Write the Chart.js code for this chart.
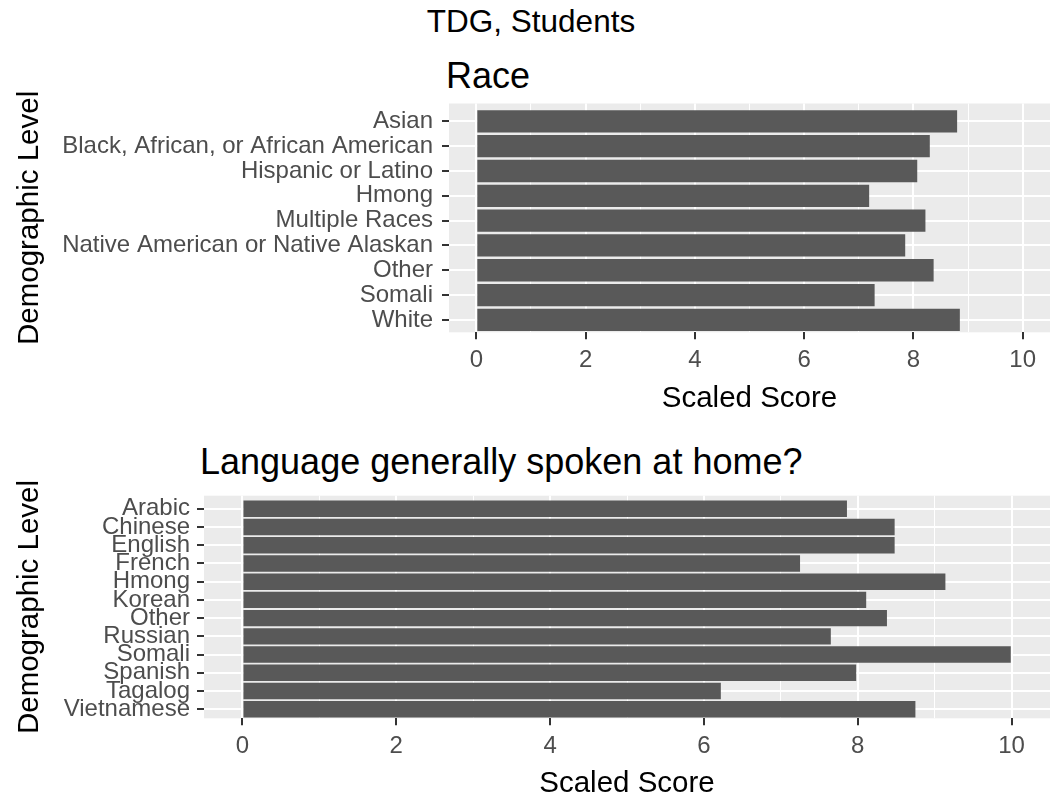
<!DOCTYPE html>
<html>
<head>
<meta charset="utf-8">
<script src="https://cdn.jsdelivr.net/npm/chart.js@4.4.1/dist/chart.umd.min.js"></script>
<style>
  html, body { margin: 0; padding: 0; background: #ffffff; }
  body { width: 1057px; height: 800px; position: relative; overflow: hidden;
         font-family: "Liberation Sans", Arial, sans-serif; }
  .txt { position: absolute; white-space: nowrap; color: #000000; }
  canvas { position: absolute; left: 0; }
</style>
</head>
<body>
<div class="txt" style="left:0;width:1062px;text-align:center;top:6px;font-size:31.5px;line-height:31.5px;">TDG, Students</div>
<div class="txt" style="left:446px;top:58px;font-size:36px;line-height:36px;">Race</div>
<div class="txt" style="left:200px;top:444px;font-size:36px;line-height:36px;">Language generally spoken at home?</div>
<canvas id="raceChart" width="1057" height="420" style="top:0px;width:1057px;height:420px;"></canvas>
<canvas id="langChart" width="1057" height="385" style="top:415px;width:1057px;height:385px;"></canvas>
<script>
// ---- data ----
const raceLabels = ["Asian", "Black, African, or African American", "Hispanic or Latino", "Hmong",
  "Multiple Races", "Native American or Native Alaskan", "Other", "Somali", "White"];
const raceScores = [8.80, 8.30, 8.07, 7.19, 8.22, 7.85, 8.37, 7.29, 8.85];

const langLabels = ["Arabic", "Chinese", "English", "French", "Hmong", "Korean", "Other",
  "Russian", "Somali", "Spanish", "Tagalog", "Vietnamese"];
const langScores = [7.86, 8.48, 8.48, 7.25, 9.14, 8.11, 8.38, 7.65, 9.99, 7.98, 6.22, 8.75];

const scoreTickLabels = [0, 2, 4, 6, 8, 10];          // major (labelled) ticks
const scoreGridValues = [0, 1, 2, 3, 4, 5, 6, 7, 8, 9, 10]; // major + minor grid
const xTitle = "Scaled Score";
const yTitle = "Demographic Level";

// ---- styling ----
const FONT = "'Liberation Sans', Arial, sans-serif";
const BAR = "#595959";
const PANEL = "#EBEBEB";
const TICKTXT = "#4D4D4D";
const TICKMARK = "#333333";

const panelBg = {
  id: 'panelBg',
  beforeDraw(chart) {
    const { ctx, chartArea: a } = chart;
    ctx.save();
    ctx.fillStyle = PANEL;
    ctx.fillRect(a.left, a.top, a.right - a.left, a.bottom - a.top);
    ctx.restore();
  }
};

function isMajor(c) { return c.tick && scoreTickLabels.includes(c.tick.value); }

function makeChart(id, labels, values, g) {
  const pts = values.map((v, i) => ({ x: v, y: i }));
  return new Chart(document.getElementById(id), {
    type: 'bar',
    data: {
      datasets: [{
        data: pts,
        backgroundColor: BAR,
        borderWidth: 0,
        categoryPercentage: 1.0,
        barPercentage: 0.9
      }]
    },
    plugins: [panelBg],
    options: {
      indexAxis: 'y',
      responsive: false,
      animation: false,
      devicePixelRatio: 1,
      layout: { padding: { top: g.padTop, bottom: g.padBottom, left: 15.25, right: 7 } },
      plugins: { legend: { display: false }, tooltip: { enabled: false }, title: { display: false } },
      scales: {
        x: {
          type: 'linear',
          position: 'bottom',
          offset: false,
          min: -0.5, max: 10.5,
          afterBuildTicks: s => { s.ticks = scoreGridValues.map(v => ({ value: v })); },
          afterFit: s => { s.height = g.xH; },
          ticks: {
            autoSkip: false, maxRotation: 0, minRotation: 0,
            color: TICKTXT, padding: 9,
            font: { family: FONT, size: 24, lineHeight: 1 },
            callback: v => scoreTickLabels.includes(v) ? String(v) : ''
          },
          grid: {
            offset: false,
            color: '#FFFFFF',
            lineWidth: c => isMajor(c) ? 2 : 1,
            drawTicks: true, tickLength: 7, tickWidth: 2,
            tickColor: c => isMajor(c) ? TICKMARK : 'rgba(0,0,0,0)'
          },
          border: { display: false },
          title: { display: true, text: xTitle, color: '#000000', padding: 0,
                   font: { family: FONT, size: 29.5, lineHeight: 1 } }
        },
        y: {
          type: 'linear',
          position: 'left',
          reverse: true,
          offset: false,
          min: -0.72, max: labels.length - 0.5,
          afterBuildTicks: s => { s.ticks = labels.map((_, i) => ({ value: i })); },
          afterFit: s => { s.width = g.yW; },
          ticks: {
            autoSkip: false, color: TICKTXT, padding: g.yPad,
            font: { family: FONT, size: 24, lineHeight: 1 },
            callback: v => labels[v]
          },
          grid: {
            offset: false,
            color: '#FFFFFF', lineWidth: 2,
            drawTicks: true, tickLength: 7, tickWidth: 2, tickColor: TICKMARK
          },
          border: { display: false },
          title: { display: true, text: yTitle, color: '#000000', padding: 0,
                   font: { family: FONT, size: 29.5, lineHeight: 1 } }
        }
      }
    }
  });
}

makeChart('raceChart', raceLabels, raceScores, { padTop: 103.5, padBottom: 6.25, xH: 81.45, yW: 433.75, yPad: 9 });
makeChart('langChart', langLabels, langScores, { padTop: 80.7, padBottom: 1.25, xH: 80.45, yW: 188.75, yPad: 7 });
</script>
</body>
</html>
